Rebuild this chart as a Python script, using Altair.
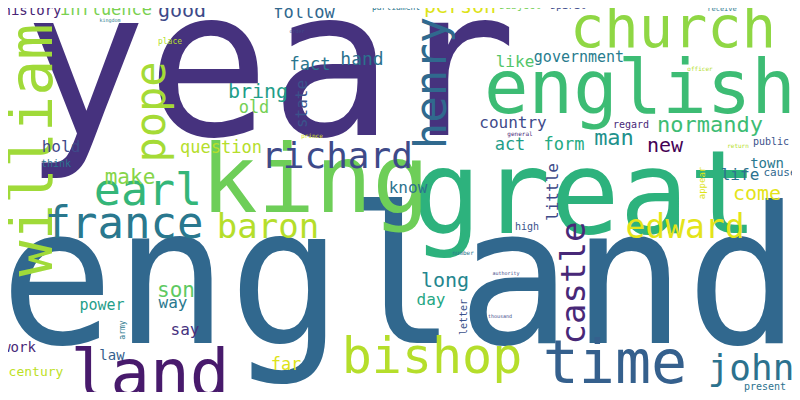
import altair as alt
import pandas as pd

# word cloud: word, font size, x (centre, or baseline for rotated words),
# y (baseline, or centre for rotated words), angle, colour
words = [
    "year", "england", "great", "land", "time", "bishop", "john", "church",
    "english", "king", "william", "pope", "henry", "castle", "little", "state",
    "france", "earl", "richard", "baron", "edward", "normandy", "man", "new",
    "life", "come", "town", "cause", "public", "regard", "form", "act", "know",
    "country", "government", "like", "person", "follow", "good", "influence",
    "history", "fact", "hand", "bring", "old", "make", "hold", "question",
    "think", "son", "way", "power", "say", "work", "law", "century", "far",
    "day", "long", "high", "subject", "spirit", "parliament", "present",
    "receive", "general", "return", "officer", "number", "authority",
    "thousand", "place", "prince", "kingdom", "order",
    "letter", "appear", "army",
]
sizes = [
    205, 190, 115, 66, 60, 50, 36, 57,
    74, 95, 60, 42, 44, 34, 16, 16,
    44, 45, 36, 34, 33, 22, 22, 20,
    16, 20, 14, 11, 10, 10, 17, 17, 16,
    16, 15, 16, 20, 17, 20, 17,
    14, 17, 18, 20, 17, 21, 16, 17,
    10, 21, 16, 15, 16, 14, 14, 13, 17,
    16, 20, 10, 10, 10, 8, 10,
    7, 6, 6, 6, 6, 5,
    5, 8, 6, 5, 5,
    10, 9, 8,
]
xs = [
    270, 400, 585, 150, 615, 432, 751, 673,
    640, 315, 52, 165, 446, 585, 558, 307,
    124, 148, 337, 268, 685, 710, 614, 665,
    740, 757, 767, 780, 771, 631, 564, 510, 408,
    513, 579, 515, 460, 304, 182, 106,
    32, 310, 362, 258, 254, 130, 61, 221,
    56, 176, 173, 102, 185, 19, 112, 36, 286,
    431, 445, 527, 520, 568, 396, 765,
    722, 520, 738, 700, 463, 506,
    500, 170, 312, 110, 297,
    467, 705, 125,
]
ys = [
    135, 343, 233, 396, 383, 373, 380, 47,
    113, 212, 150, 112, 83, 283, 192, 104,
    238, 205, 168, 238, 238, 132, 145, 152,
    180, 200, 168, 176, 145, 128, 150, 150, 193,
    128, 62, 67, 13, 18, 17, 15,
    15, 70, 65, 98, 113, 184, 152, 153,
    167, 297, 308, 310, 335, 352, 360, 376, 370,
    305, 287, 230, 9, 9, 10, 390,
    11, 136, 148, 71, 255, 275,
    318, 44, 138, 22, 33,
    317, 183, 330,
]
angles = (
    [0] * 10 + [270] * 6 + [0] * 59 + [270, 270, 270]
)
colors = [
    "#46327e", "#31688e", "#2db27d", "#481a6c", "#35608d", "#b5de2b", "#2c728e", "#8fd744",
    "#3dbc74", "#6ece58", "#a0da39", "#a5db36", "#30698e", "#482878", "#3e4a89", "#3b528b",
    "#2a788e", "#34b679", "#3e4a89", "#b5de2b", "#e4e419", "#3dbc74", "#21918c", "#440154",
    "#2c728e", "#e4e419", "#2a788e", "#31688e", "#3b528b", "#482878", "#25ab82", "#1f9e89", "#2c728e",
    "#3e4a89", "#287c8e", "#52c569", "#dde318", "#31688e", "#3e4a89", "#7ad151",
    "#482475", "#2a768e", "#2c728e", "#1f9e89", "#75d054", "#86d549", "#3e4a89", "#b5de2b",
    "#2c728e", "#5ec962", "#2a788e", "#1f9e89", "#46337e", "#482878", "#355f8d", "#bddf26", "#dde318",
    "#26a784", "#24868e", "#3b528b", "#75d054", "#3e4a89", "#2a788e", "#2c728e",
    "#2a788e", "#482878", "#b5de2b", "#b5de2b", "#2a788e", "#3e4a89",
    "#3e4a89", "#b5de2b", "#dde318", "#2a788e", "#3e4a89",
    "#3b528b", "#dde318", "#2a788e",
]

df = pd.DataFrame(
    {"word": words, "size": sizes, "x": xs, "y": ys, "angle": angles, "color": colors}
)

chart = (
    alt.Chart(df)
    .mark_text(font="DejaVu Sans Mono", align="center", baseline="alphabetic", clip=False)
    .encode(
        x=alt.X("x:Q", scale=alt.Scale(domain=[8, 792]), axis=None),
        y=alt.Y("y:Q", scale=alt.Scale(domain=[392, 8]), axis=None),
        text="word:N",
        size=alt.Size("size:Q", scale=None),
        angle=alt.Angle("angle:Q", scale=None),
        color=alt.Color("color:N", scale=None),
    )
    .properties(width=784, height=384, padding=0, autosize="none", background="white")
    .configure_view(stroke=None)
)

chart.save("out.html", embed_options={"renderer": "svg", "actions": False})
